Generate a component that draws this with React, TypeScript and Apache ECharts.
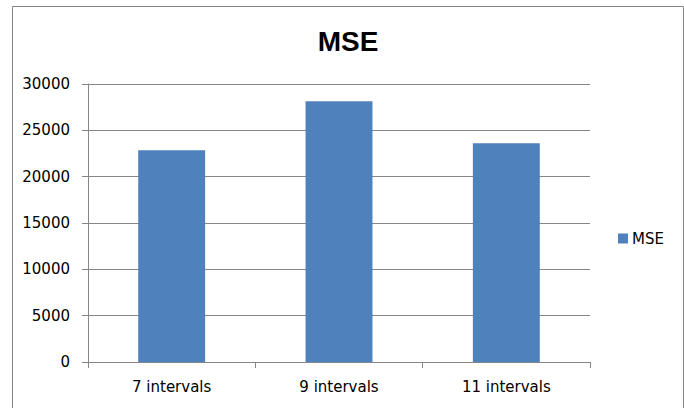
import React, { useEffect, useRef } from "react";
import * as echarts from "echarts";

const categories = ["7 intervals", "9 intervals", "11 intervals"];
const mseValues = [22850, 28150, 23600];
const yTicks = { min: 0, max: 30000, interval: 5000 };
const seriesName = "MSE";
const titleText = "MSE";

export default function App() {
  const ref = useRef<HTMLDivElement>(null);

  useEffect(() => {
    if (!ref.current) return;
    const chart = echarts.init(ref.current, undefined, { renderer: "svg" });
    const gray = "#868686";
    const font = "'DejaVu Sans', Tahoma, sans-serif";
    chart.setOption({
      animation: false,
      backgroundColor: "#ffffff",
      title: {
        text: titleText,
        left: 343,
        top: 22,
        textAlign: "center",
        textStyle: {
          fontFamily: "'Liberation Sans', Arial, sans-serif",
          fontWeight: "bold",
          fontSize: 28,
          color: "#000000",
        },
      },
      legend: {
        data: [seriesName],
        left: 613,
        top: 226,
        icon: "rect",
        itemWidth: 10,
        itemHeight: 10,
        itemGap: 0,
        textStyle: { fontFamily: font, fontSize: 15, color: "#000000", padding: [0, 0, 0, -1] },
      },
      grid: { left: 88, right: 94, top: 84, bottom: 46 },
      xAxis: {
        type: "category",
        data: categories,
        axisLine: { lineStyle: { color: gray, width: 1 } },
        axisTick: { show: true, length: 6, alignWithLabel: false, lineStyle: { color: gray } },
        axisLabel: { fontFamily: font, fontSize: 15, color: "#000000", margin: 17 },
        splitLine: { show: false },
      },
      yAxis: {
        type: "value",
        min: yTicks.min,
        max: yTicks.max,
        interval: yTicks.interval,
        axisLine: { show: true, lineStyle: { color: gray, width: 1 } },
        axisTick: { show: true, length: 6, lineStyle: { color: gray } },
        axisLabel: {
          fontFamily: font,
          fontSize: 15,
          color: "#000000",
          margin: 18,
          formatter: (v: number) => String(v),
        },
        splitLine: { show: true, lineStyle: { color: gray, width: 1 } },
      },
      series: [
        {
          name: seriesName,
          type: "bar",
          data: mseValues,
          barWidth: "40%",
          itemStyle: { color: "#4F81BD" },
        },
      ],
      graphic: [
        {
          type: "rect",
          left: 10,
          top: 4,
          shape: { x: 0.5, y: 0.5, width: 671, height: 420 },
          style: { fill: "none", stroke: gray, lineWidth: 1 },
          silent: true,
          z: -1,
        },
      ],
    });
    return () => chart.dispose();
  }, []);

  return (
    <div
      ref={ref}
      style={{ position: "fixed", left: 0, top: 0, width: 684, height: 408 }}
    />
  );
}
